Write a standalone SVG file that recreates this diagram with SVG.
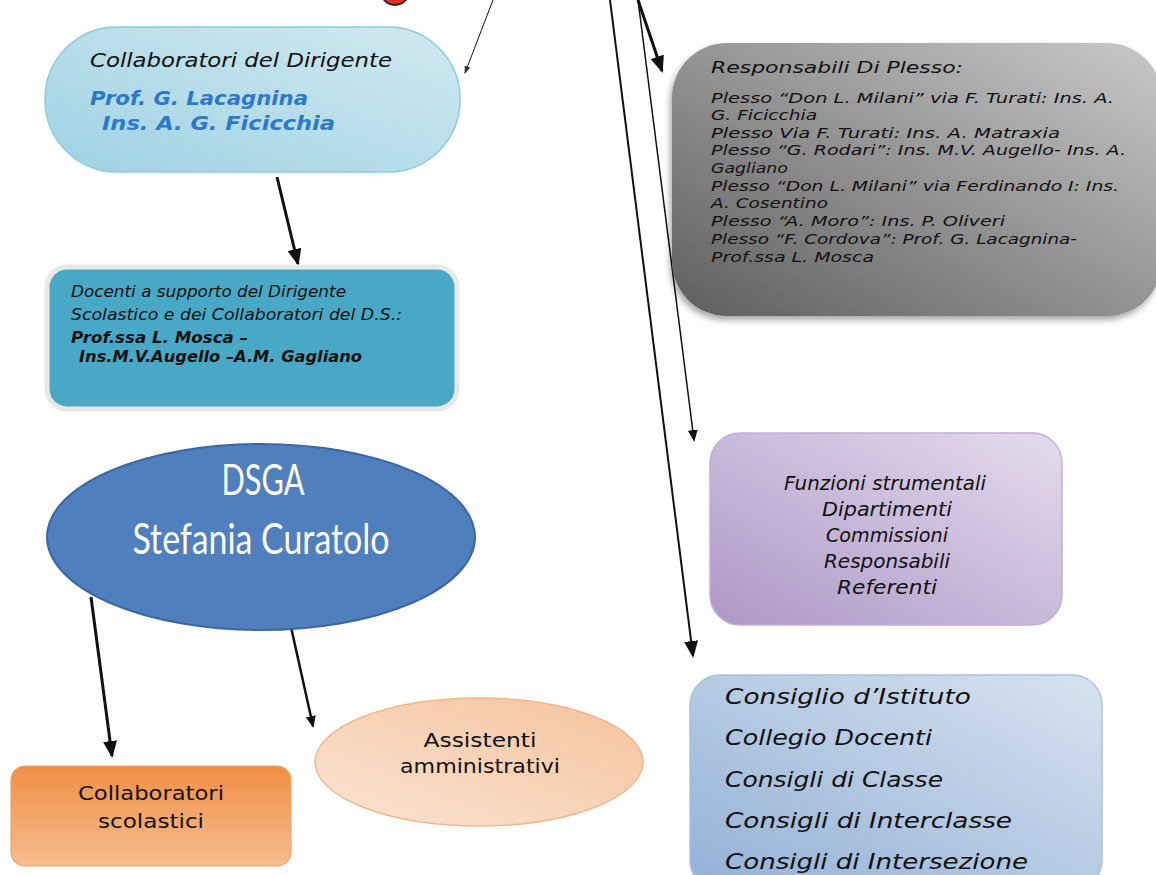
<svg xmlns="http://www.w3.org/2000/svg" width="1156" height="875" viewBox="0 0 1156 875">
<style>
.c{font-family:"DejaVu Sans","Liberation Sans",sans-serif;font-style:italic;fill:#111}
.r{font-family:"DejaVu Sans","Liberation Sans",sans-serif;fill:#111}
.w{font-family:"Lato","Open Sans",sans-serif;fill:#fff}
.ln{stroke:#111;fill:none}
</style>
<defs>
<marker id="big" markerUnits="userSpaceOnUse" markerWidth="18" markerHeight="14" refX="15" refY="7" orient="auto"><path d="M0,0 L17,7 L0,14 z" fill="#111"/></marker>
<marker id="sm" markerUnits="userSpaceOnUse" markerWidth="12" markerHeight="10" refX="10" refY="5" orient="auto"><path d="M0,0 L12,5 L0,10 z" fill="#111"/></marker>
<marker id="tn" markerUnits="userSpaceOnUse" markerWidth="8" markerHeight="6" refX="7" refY="3" orient="auto"><path d="M0,0 L8,3 L0,6 z" fill="#333"/></marker>
<linearGradient id="gBlue" x1="0" y1="1" x2="1" y2="0"><stop offset="0" stop-color="#9ed2e3"/><stop offset="1" stop-color="#d2e9f0"/></linearGradient>
<linearGradient id="gGray" x1="0" y1="1" x2="1" y2="0"><stop offset="0" stop-color="#5e5e5e"/><stop offset="1" stop-color="#c9c9c9"/></linearGradient>
<linearGradient id="gPurp" x1="0" y1="1" x2="1" y2="0"><stop offset="0" stop-color="#ad96c6"/><stop offset="1" stop-color="#e4dced"/></linearGradient>
<linearGradient id="gCons" x1="0" y1="1" x2="1" y2="0"><stop offset="0" stop-color="#92b0d6"/><stop offset="1" stop-color="#d8e3ef"/></linearGradient>
<linearGradient id="gOr" x1="0" y1="0" x2="0" y2="1"><stop offset="0" stop-color="#f08f45"/><stop offset="1" stop-color="#f6bd8f"/></linearGradient>
<linearGradient id="gPeach" x1="0" y1="1" x2="1" y2="0"><stop offset="0" stop-color="#fbe3d2"/><stop offset="1" stop-color="#f4c39c"/></linearGradient>
<filter id="sh" x="-10%" y="-10%" width="120%" height="130%"><feDropShadow dx="-2" dy="4" stdDeviation="3" flood-color="#000" flood-opacity="0.35"/></filter>
</defs>

<g id="top-node">
<ellipse cx="395" cy="-9" rx="14" ry="14" fill="#e0302a" stroke="#222" stroke-width="2"/>
</g>

<g id="connectors">
<line class="ln" x1="493" y1="0" x2="465" y2="73" stroke-width="1" stroke="#333" marker-end="url(#tn)"/>
<line class="ln" x1="638" y1="0" x2="662" y2="71" stroke-width="3" marker-end="url(#big)"/>
<line class="ln" x1="638" y1="0" x2="694" y2="440" stroke-width="1.5" marker-end="url(#sm)"/>
<line class="ln" x1="610" y1="0" x2="693" y2="656" stroke-width="2" marker-end="url(#big)"/>
<line class="ln" x1="277" y1="177" x2="298" y2="264" stroke-width="3" marker-end="url(#big)"/>
<line class="ln" x1="91" y1="597" x2="112" y2="756" stroke-width="3" marker-end="url(#big)"/>
<line class="ln" x1="291" y1="627" x2="313" y2="726" stroke-width="2.5" marker-end="url(#sm)"/>
</g>

<g id="collaboratori-dirigente">
<rect x="45" y="27" width="415" height="145" rx="72" fill="url(#gBlue)" stroke="#8ccbdd" stroke-width="1.5"/>
<text class="c" x="90" y="67" font-size="19" textLength="302" lengthAdjust="spacingAndGlyphs">Collaboratori del Dirigente</text>
<text class="c" x="90" y="105" font-size="19" font-weight="bold" style="fill:#2b78cc" textLength="218" lengthAdjust="spacingAndGlyphs">Prof. G. Lacagnina</text>
<text class="c" x="102" y="130" font-size="19" font-weight="bold" style="fill:#2b78cc" textLength="233" lengthAdjust="spacingAndGlyphs">Ins. A. G. Ficicchia</text>
</g>

<g id="docenti-supporto">
<rect x="47" y="267" width="410" height="142" rx="20" fill="#4aa8c7" stroke="#e8e8e8" stroke-width="5"/>
<text class="c" x="71" y="297" font-size="15" textLength="275" lengthAdjust="spacingAndGlyphs">Docenti a supporto del Dirigente</text>
<text class="c" x="71" y="320" font-size="15" textLength="331" lengthAdjust="spacingAndGlyphs">Scolastico e dei Collaboratori del D.S.:</text>
<text class="c" x="71" y="343" font-size="15" font-weight="bold" textLength="177" lengthAdjust="spacingAndGlyphs">Prof.ssa L. Mosca –</text>
<text class="c" x="79" y="362" font-size="15" font-weight="bold" textLength="283" lengthAdjust="spacingAndGlyphs">Ins.M.V.Augello –A.M. Gagliano</text>
</g>

<g id="dsga">
<ellipse cx="261" cy="537" rx="214" ry="93" fill="#4f7fbd" stroke="#3b68a4" stroke-width="2"/>
<text class="w" x="263" y="495" font-size="42" text-anchor="middle" textLength="83" lengthAdjust="spacingAndGlyphs">DSGA</text>
<text class="w" x="261" y="554" font-size="42" text-anchor="middle" textLength="257" lengthAdjust="spacingAndGlyphs">Stefania Curatolo</text>
</g>

<g id="collaboratori-scolastici">
<rect x="11" y="766" width="280" height="100" rx="14" fill="url(#gOr)" stroke="#f0a36a" stroke-width="1.2"/>
<text class="r" x="151" y="800" font-size="19" text-anchor="middle" textLength="146" lengthAdjust="spacingAndGlyphs">Collaboratori</text>
<text class="r" x="151" y="828" font-size="19" text-anchor="middle" textLength="106" lengthAdjust="spacingAndGlyphs">scolastici</text>
</g>

<g id="assistenti">
<ellipse cx="479" cy="762" rx="164" ry="64" fill="url(#gPeach)" stroke="#f2b88c" stroke-width="1.5"/>
<text class="r" x="480" y="747" font-size="19" text-anchor="middle" textLength="113" lengthAdjust="spacingAndGlyphs">Assistenti</text>
<text class="r" x="480" y="773" font-size="19" text-anchor="middle" textLength="160" lengthAdjust="spacingAndGlyphs">amministrativi</text>
</g>

<g id="responsabili-plesso">
<rect x="672" y="43" width="490" height="273" rx="55" fill="url(#gGray)" filter="url(#sh)"/>
<text class="c" x="711" y="73" font-size="16" textLength="252" lengthAdjust="spacingAndGlyphs">Responsabili Di Plesso:</text>
<g font-size="14.5">
<text class="c" x="711" y="103" textLength="403" lengthAdjust="spacingAndGlyphs">Plesso “Don L. Milani” via F. Turati: Ins. A.</text>
<text class="c" x="711" y="120" textLength="106" lengthAdjust="spacingAndGlyphs">G. Ficicchia</text>
<text class="c" x="711" y="138" textLength="349" lengthAdjust="spacingAndGlyphs">Plesso Via F. Turati: Ins. A. Matraxia</text>
<text class="c" x="711" y="155" textLength="415" lengthAdjust="spacingAndGlyphs">Plesso “G. Rodari”: Ins. M.V. Augello- Ins. A.</text>
<text class="c" x="711" y="173" textLength="77" lengthAdjust="spacingAndGlyphs">Gagliano</text>
<text class="c" x="711" y="191" textLength="408" lengthAdjust="spacingAndGlyphs">Plesso “Don L. Milani” via Ferdinando I: Ins.</text>
<text class="c" x="711" y="208" textLength="117" lengthAdjust="spacingAndGlyphs">A. Cosentino</text>
<text class="c" x="711" y="226" textLength="294" lengthAdjust="spacingAndGlyphs">Plesso “A. Moro”: Ins. P. Oliveri</text>
<text class="c" x="711" y="244" textLength="366" lengthAdjust="spacingAndGlyphs">Plesso “F. Cordova”: Prof. G. Lacagnina-</text>
<text class="c" x="711" y="262" textLength="163" lengthAdjust="spacingAndGlyphs">Prof.ssa L. Mosca</text>
</g>
</g>

<g id="funzioni">
<rect x="710" y="433" width="352" height="192" rx="30" fill="url(#gPurp)" stroke="#c3aed9" stroke-width="1.5"/>
<g font-size="19" text-anchor="middle">
<text class="c" x="885" y="490" textLength="202" lengthAdjust="spacingAndGlyphs">Funzioni strumentali</text>
<text class="c" x="887" y="516" textLength="130" lengthAdjust="spacingAndGlyphs">Dipartimenti</text>
<text class="c" x="887" y="542" textLength="122" lengthAdjust="spacingAndGlyphs">Commissioni</text>
<text class="c" x="887" y="568" textLength="126" lengthAdjust="spacingAndGlyphs">Responsabili</text>
<text class="c" x="887" y="594" textLength="100" lengthAdjust="spacingAndGlyphs">Referenti</text>
</g>
</g>

<g id="consigli">
<rect x="690" y="675" width="412" height="215" rx="30" fill="url(#gCons)" stroke="#a9c2e2" stroke-width="1.5"/>
<g font-size="21">
<text class="c" x="725" y="704" textLength="246" lengthAdjust="spacingAndGlyphs">Consiglio d’Istituto</text>
<text class="c" x="725" y="745" textLength="207" lengthAdjust="spacingAndGlyphs">Collegio Docenti</text>
<text class="c" x="725" y="787" textLength="218" lengthAdjust="spacingAndGlyphs">Consigli di Classe</text>
<text class="c" x="725" y="828" textLength="287" lengthAdjust="spacingAndGlyphs">Consigli di Interclasse</text>
<text class="c" x="725" y="869" textLength="303" lengthAdjust="spacingAndGlyphs">Consigli di Intersezione</text>
</g>
</g>
</svg>
